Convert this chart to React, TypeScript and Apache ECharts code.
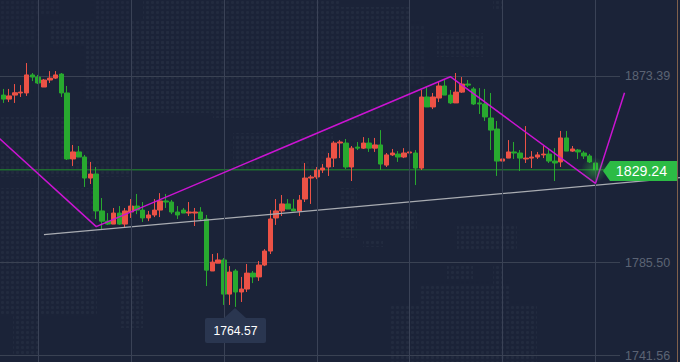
import React, { useEffect, useRef } from "react";
import * as echarts from "echarts";

const opens = [
  1864.4, 1862.5, 1864.4, 1865.4, 1865.4, 1873.9, 1872.9, 1868.2, 1871.5, 1872.4,
  1874.3, 1865.4, 1834.3, 1837.6, 1835.2, 1825.3, 1827.2, 1809.8, 1805.0, 1803.6,
  1808.8, 1803.6, 1809.3, 1812.1, 1810.2, 1806.5, 1807.9, 1810.2, 1814.5, 1814.0,
  1809.3, 1810.2, 1808.8, 1808.8, 1809.3, 1806.0, 1781.5, 1785.2, 1786.7, 1770.6,
  1781.5, 1771.6, 1773.0, 1780.5, 1778.7, 1784.3, 1790.9, 1806.5, 1809.8, 1813.1,
  1810.7, 1809.8, 1815.4, 1825.3, 1825.8, 1829.1, 1830.5, 1834.7, 1841.8, 1841.8,
  1830.5, 1839.9, 1839.4, 1841.8, 1839.4, 1840.9, 1831.4, 1836.2, 1836.6, 1835.2,
  1837.1, 1837.1, 1830.0, 1863.5, 1858.8, 1863.0, 1868.7, 1864.4, 1860.7, 1865.8,
  1869.6, 1867.3, 1860.7, 1860.2, 1853.6, 1848.4, 1833.3, 1834.7, 1837.6, 1837.1,
  1834.3, 1834.7, 1835.2, 1836.2, 1836.6, 1833.3, 1832.9, 1844.2, 1838.0, 1838.5,
  1837.1, 1835.7, 1832.4,
];
const closes = [
  1862.5, 1864.0, 1865.5, 1865.8, 1873.9, 1872.9, 1870.1, 1871.5, 1872.4, 1873.9,
  1865.4, 1834.3, 1837.6, 1835.2, 1825.3, 1827.2, 1809.8, 1805.0, 1803.6, 1808.8,
  1803.6, 1809.8, 1812.1, 1810.2, 1806.5, 1807.9, 1810.2, 1814.5, 1814.0, 1809.3,
  1807.9, 1808.8, 1809.3, 1809.3, 1806.0, 1781.9, 1785.7, 1786.7, 1770.6, 1781.0,
  1771.6, 1773.0, 1780.5, 1778.7, 1784.3, 1790.9, 1806.0, 1809.8, 1813.1, 1810.7,
  1809.8, 1814.9, 1825.3, 1825.8, 1829.1, 1830.0, 1834.7, 1841.8, 1842.3, 1830.5,
  1839.4, 1839.4, 1841.8, 1839.4, 1840.9, 1831.9, 1836.2, 1837.1, 1835.2, 1837.1,
  1837.6, 1830.0, 1863.5, 1858.8, 1863.5, 1868.7, 1864.4, 1860.7, 1865.8, 1869.6,
  1869.1, 1860.2, 1860.2, 1854.1, 1847.9, 1833.3, 1834.3, 1837.6, 1837.1, 1834.7,
  1834.7, 1835.2, 1836.2, 1836.6, 1833.3, 1832.4, 1844.2, 1838.0, 1839.0, 1837.6,
  1835.7, 1832.9, 1829.24,
];
const lows = [
  1860.7, 1861.1, 1860.7, 1863.5, 1864.0, 1871.0, 1869.6, 1868.2, 1870.1, 1872.0,
  1863.5, 1833.8, 1831.0, 1835.2, 1821.1, 1822.5, 1806.0, 1800.8, 1803.2, 1803.6,
  1803.2, 1802.2, 1806.5, 1808.3, 1804.6, 1805.0, 1806.9, 1806.9, 1811.2, 1808.3,
  1806.0, 1808.8, 1807.4, 1802.7, 1805.5, 1774.4, 1781.5, 1785.2, 1765.5, 1765.5,
  1764.57, 1766.9, 1771.6, 1775.8, 1776.8, 1783.8, 1789.5, 1803.2, 1807.4, 1810.7,
  1809.8, 1807.4, 1814.0, 1813.1, 1824.8, 1827.7, 1826.3, 1830.5, 1834.7, 1829.6,
  1823.9, 1838.5, 1839.0, 1837.6, 1837.6, 1829.1, 1830.5, 1835.7, 1832.9, 1834.7,
  1836.6, 1822.0, 1829.1, 1858.8, 1857.8, 1861.1, 1864.4, 1860.2, 1860.7, 1865.4,
  1868.2, 1859.7, 1855.5, 1852.2, 1838.5, 1826.3, 1832.9, 1834.7, 1834.3, 1828.6,
  1832.4, 1830.0, 1834.3, 1834.7, 1832.4, 1823.9, 1830.5, 1838.0, 1837.6, 1834.3,
  1834.3, 1832.4, 1827.2,
];
const highs = [
  1867.3, 1867.3, 1869.6, 1869.1, 1879.5, 1874.8, 1873.9, 1872.0, 1875.7, 1875.7,
  1874.8, 1868.7, 1840.9, 1840.4, 1836.2, 1832.9, 1830.5, 1815.9, 1808.8, 1811.2,
  1812.1, 1811.2, 1815.4, 1817.8, 1814.0, 1809.8, 1815.4, 1818.2, 1817.8, 1815.0,
  1812.1, 1811.2, 1814.0, 1811.2, 1811.6, 1807.9, 1789.5, 1789.9, 1787.6, 1783.8,
  1782.4, 1778.7, 1784.8, 1781.5, 1786.2, 1791.8, 1810.2, 1815.4, 1817.3, 1815.4,
  1815.4, 1817.3, 1832.4, 1826.7, 1830.5, 1831.9, 1837.1, 1842.7, 1843.2, 1843.7,
  1840.4, 1842.3, 1844.6, 1844.2, 1844.2, 1847.9, 1837.1, 1839.0, 1838.0, 1839.4,
  1842.3, 1838.5, 1866.8, 1868.2, 1865.4, 1870.6, 1871.5, 1866.8, 1874.8, 1872.9,
  1871.5, 1868.2, 1867.7, 1867.3, 1865.4, 1852.2, 1841.3, 1843.2, 1842.3, 1838.5,
  1849.8, 1838.0, 1837.6, 1840.4, 1839.4, 1839.4, 1847.5, 1847.5, 1840.4, 1839.0,
  1838.0, 1836.6, 1834.3,
];

const yTicks = [1873.39, 1785.5, 1741.56];
const lastPrice = 1829.24;
const lowLabel = "1764.57";
const yMin = 1738.61;
const yMax = 1909.21;

// category index, price (category 0 sits just left of the first candle)
const zigzag: [number, number][] = [
  [0, 1844.8],
  [17, 1802.4],
  [78, 1873.05],
  [103, 1822.8],
  [108, 1865.5],
];
const supportLine: [number, number][] = [
  [8, 1798.6],
  [118, 1825.6],
];
const vLineCategories = [7, 23, 39, 55, 71, 87, 103];
const slotCount = 119;
const categories = Array.from({ length: slotCount }, (_, i) => String(i));

const BG = "#1b2338";
const RED = "#ec5246";
const GREEN = "#28a92f";

// faint dotted world-map patches: x, y, w, h, opacity
const dotPatches: [number, number, number, number, number][] = [
  [0, 0, 60, 15, 0.6],
  [0, 15, 35, 30, 0.6],
  [50, 20, 125, 25, 0.9],
  [85, 43, 90, 57, 0.9],
  [95, 0, 35, 20, 0.7],
  [143, 0, 197, 67, 0.9],
  [133, 67, 207, 46, 0.9],
  [213, 113, 67, 5, 0.8],
  [233, 133, 100, 37, 0.9],
  [0, 117, 130, 60, 0.8],
  [340, 7, 70, 116, 0.9],
  [410, 25, 15, 60, 0.6],
  [437, 33, 46, 24, 0.9],
  [493, 0, 10, 10, 0.8],
  [0, 188, 97, 126, 0.9],
  [13, 314, 27, 40, 0.9],
  [120, 274, 23, 54, 0.9],
  [340, 188, 17, 50, 0.8],
  [370, 211, 47, 20, 0.9],
  [363, 241, 20, 6, 0.9],
  [457, 224, 60, 27, 0.9],
  [447, 264, 26, 17, 0.9],
  [493, 264, 10, 24, 0.9],
  [420, 284, 90, 20, 0.9],
  [390, 304, 147, 58, 0.9],
];

export default function App() {
  const ref = useRef<HTMLDivElement>(null);

  useEffect(() => {
    const chart = echarts.init(ref.current!, undefined, { renderer: "svg" });
    const candles = opens.map((o, i) => [o, closes[i], lows[i], highs[i]]);
    const sans = "'Liberation Sans', Arial, Helvetica, sans-serif";
    const option: any = {
      animation: false,
      backgroundColor: "transparent",
      grid: [
        { left: -5.4, top: 0, width: 690.9, height: 362, containLabel: false, outerBoundsMode: "none" },
        { left: 0, top: 0, width: 620, height: 362, containLabel: false, outerBoundsMode: "none" },
      ],
      xAxis: [
        { type: "category", data: categories, gridIndex: 0, show: false, boundaryGap: true },
        { type: "value", gridIndex: 1, min: 0, max: 1, show: false },
      ],
      yAxis: [
        { type: "value", gridIndex: 0, min: yMin, max: yMax, show: false },
        {
          type: "value",
          gridIndex: 1,
          min: yMin,
          max: yMax,
          position: "right",
          axisLine: { show: false },
          axisTick: { show: false, customValues: yTicks },
          axisLabel: {
            customValues: yTicks,
            margin: 5,
            color: "#5b6374",
            fontSize: 12.5,
            fontFamily: sans,
            formatter: (v: number) => v.toFixed(2),
          },
          splitLine: { show: true, lineStyle: { color: "#3a4253", width: 1 } },
        },
      ],
      series: [
        {
          type: "line",
          name: "vlines",
          xAxisIndex: 0,
          yAxisIndex: 0,
          data: [],
          z: 1,
          silent: true,
          markLine: {
            silent: true,
            symbol: "none",
            label: { show: false },
            lineStyle: { color: "#3a4256", width: 1, type: "solid" },
            data: vLineCategories.map((c) => ({ xAxis: String(c) })),
          },
        },
        {
          type: "line",
          name: "price",
          xAxisIndex: 1,
          yAxisIndex: 1,
          data: [
            [0, lastPrice],
            [1, lastPrice],
          ],
          symbol: "none",
          silent: true,
          z: 1.5,
          lineStyle: { color: "#1f6d30", width: 1.5 },
        },
        {
          type: "candlestick",
          name: "XAU",
          xAxisIndex: 0,
          yAxisIndex: 0,
          // the first category is an empty slot left of the first candle
          data: [["-", "-", "-", "-"], ...candles],
          barWidth: 5,
          z: 2,
          itemStyle: { color: RED, color0: GREEN, borderColor: RED, borderColor0: GREEN, borderWidth: 1 },
        },
        {
          type: "line",
          name: "support",
          xAxisIndex: 0,
          yAxisIndex: 0,
          data: supportLine,
          symbol: "none",
          silent: true,
          z: 4,
          lineStyle: { color: "#a9acb2", width: 1.3 },
        },
        {
          type: "line",
          name: "zigzag",
          xAxisIndex: 0,
          yAxisIndex: 0,
          data: zigzag,
          symbol: "none",
          silent: true,
          z: 5,
          lineStyle: { color: "#cb14d2", width: 1.5 },
        },
      ],
      graphic: [
        {
          type: "circle",
          silent: true,
          z: 10,
          shape: { cx: 594, cy: 170, r: 13 },
          style: {
            fill: new echarts.graphic.RadialGradient(0.5, 0.5, 0.5, [
              { offset: 0, color: "rgba(60,230,70,0.38)" },
              { offset: 1, color: "rgba(60,230,70,0)" },
            ]),
          },
        },
        {
          type: "line",
          silent: true,
          z: 11,
          shape: { x1: 677.5, y1: 0, x2: 677.5, y2: 362 },
          style: { stroke: "#80604c", lineWidth: 1 },
        },
        {
          type: "polygon",
          silent: true,
          z: 20,
          shape: {
            points: [
              [603, 171],
              [610, 161],
              [677, 161],
              [677, 181],
              [610, 181],
            ],
          },
          style: { fill: "#2cbb45" },
        },
        {
          type: "text",
          silent: true,
          z: 21,
          x: 641.5,
          y: 171,
          style: {
            text: lastPrice.toFixed(2),
            fill: "#ffffff",
            fontSize: 14.2,
            fontFamily: sans,
            textAlign: "center",
            textVerticalAlign: "middle",
          },
        },
        {
          type: "polygon",
          silent: true,
          z: 20,
          shape: {
            points: [
              [235, 308],
              [246, 318],
              [224, 318],
            ],
          },
          style: { fill: "#2a3650" },
        },
        {
          type: "rect",
          silent: true,
          z: 20,
          shape: { x: 205, y: 318, width: 61, height: 25, r: 2 },
          style: { fill: "#2a3650" },
        },
        {
          type: "text",
          silent: true,
          z: 21,
          x: 235.5,
          y: 330.5,
          style: {
            text: lowLabel,
            fill: "#ffffff",
            fontSize: 12.2,
            fontFamily: sans,
            textAlign: "center",
            textVerticalAlign: "middle",
          },
        },
      ],
    };
    chart.setOption(option);
    return () => chart.dispose();
  }, []);

  return (
    <div style={{ position: "fixed", left: 0, top: 0, width: 680, height: 362, background: BG, overflow: "hidden" }}>
      {dotPatches.map(([x, y, w, h, o], i) => (
        <div
          key={i}
          style={{
            position: "absolute",
            left: x,
            top: y,
            width: w,
            height: h,
            opacity: o,
            backgroundImage: "radial-gradient(circle at 2.5px 2.5px, #232c40 1.3px, rgba(0,0,0,0) 1.7px)",
            backgroundSize: "5px 5px",
            backgroundPosition: `${-x % 5}px ${-y % 5}px`,
          }}
        />
      ))}
      <div ref={ref} style={{ position: "absolute", left: 0, top: 0, width: 680, height: 362 }} />
    </div>
  );
}
